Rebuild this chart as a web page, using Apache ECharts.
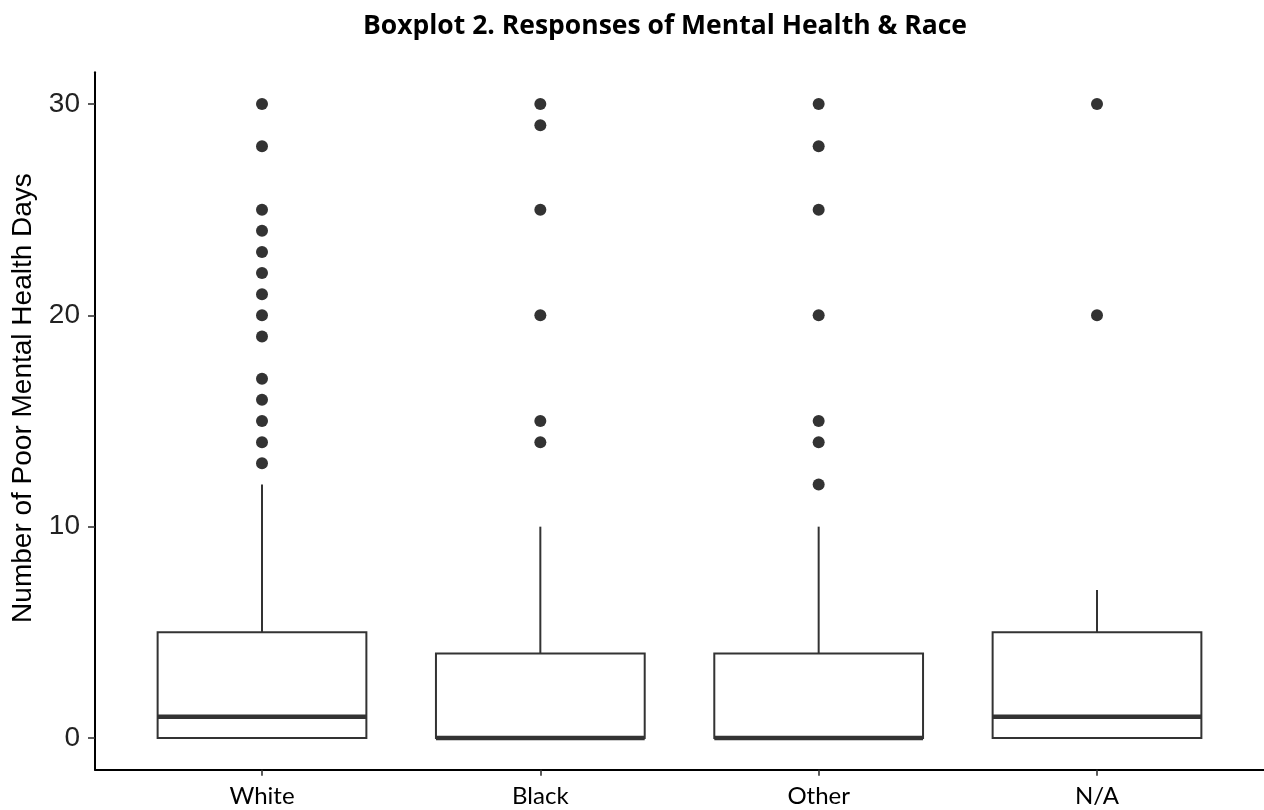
<!DOCTYPE html>
<html>
<head>
<meta charset="utf-8">
<title>Boxplot 2. Responses of Mental Health &amp; Race</title>
<script src="https://cdn.jsdelivr.net/npm/echarts@6/dist/echarts.min.js"></script>
<style>
  html, body { margin: 0; padding: 0; background: #fff; }
  #chart { width: 1264px; height: 810px; }
</style>
</head>
<body>
<div id="chart"></div>
<script>
// Race groups along the x axis
const categories = ['White', 'Black', 'Other', 'N/A'];

// Five-number summaries per group: [lower whisker, Q1, median, Q3, upper whisker]
const boxStats = [
  [0, 0, 1, 5, 12],
  [0, 0, 0, 4, 10],
  [0, 0, 0, 4, 10],
  [0, 0, 1, 5, 7]
];

// Outlying responses per group (distinct values)
const outliersWhite = [13, 14, 15, 16, 17, 19, 20, 21, 22, 23, 24, 25, 28, 30];
const outliersBlack = [14, 15, 20, 25, 29, 30];
const outliersOther = [12, 14, 15, 20, 25, 28, 30];
const outliersNA = [20, 30];
const outlierGroups = [outliersWhite, outliersBlack, outliersOther, outliersNA];

// Y axis tick labels
const yTicks = [0, 10, 20, 30];

// Categories sit at x = 1..n on a continuous axis padded by 0.6 each side
const boxData = boxStats.map((s, i) => [i + 1].concat(s));
const outlierData = [];
outlierGroups.forEach((vals, i) => vals.forEach(v => outlierData.push([i + 1, v])));
const xPositions = categories.map((_, i) => i + 1);

const INK = '#333333';
const BOX_WIDTH = 0.75;

const chart = echarts.init(document.getElementById('chart'), null, { renderer: 'canvas' });

chart.setOption({
  animation: false,
  backgroundColor: '#ffffff',
  title: {
    text: 'Boxplot 2. Responses of Mental Health & Race',
    left: 660,
    textAlign: 'center',
    top: 8,
    textStyle: { fontFamily: 'Open Sans', fontWeight: 'bold', fontSize: 26.5, color: '#000' }
  },
  grid: { left: 95, right: 0, top: 72.3, bottom: 40.3, outerBoundsMode: 'none', containLabel: false },
  xAxis: {
    type: 'value',
    min: 0.4,
    max: 4.6,
    splitLine: { show: false },
    axisLine: { onZero: false, lineStyle: { color: '#000', width: 2 } },
    axisTick: { customValues: xPositions, length: 6, lineStyle: { color: INK, width: 1.6 } },
    axisLabel: {
      customValues: xPositions,
      margin: 15,
      formatter: v => categories[Math.round(v) - 1] || '',
      fontFamily: 'Lato', fontSize: 24, color: '#000'
    }
  },
  yAxis: {
    type: 'value',
    min: -1.5,
    max: 31.5,
    name: 'Number of Poor Mental Health Days',
    nameLocation: 'middle',
    nameRotate: 90,
    nameGap: 58,
    nameTextStyle: {
      fontFamily: 'Liberation Sans', fontSize: 28, color: '#000',
      padding: [0, 0, 0, 46]
    },
    splitLine: { show: false },
    axisLine: { onZero: false, lineStyle: { color: '#000', width: 2 } },
    axisTick: { customValues: yTicks, length: 7, lineStyle: { color: INK, width: 1.6 } },
    axisLabel: {
      customValues: yTicks,
      margin: 15,
      fontFamily: 'Liberation Sans', fontSize: 28, color: '#222'
    }
  },
  series: [
    {
      type: 'custom',
      name: 'boxes',
      data: boxData,
      encode: { x: 0, y: [1, 2, 3, 4, 5] },
      renderItem: function (params, api) {
        const x = api.value(0);
        const lo = api.value(1), q1 = api.value(2), med = api.value(3), q3 = api.value(4), hi = api.value(5);
        const half = api.size([BOX_WIDTH, 0])[0] / 2;
        const cx = api.coord([x, q1])[0];
        const yLo = api.coord([x, lo])[1];
        const yQ1 = api.coord([x, q1])[1];
        const yMed = api.coord([x, med])[1];
        const yQ3 = api.coord([x, q3])[1];
        const yHi = api.coord([x, hi])[1];
        const thin = { stroke: INK, lineWidth: 2, fill: null };
        return {
          type: 'group',
          children: [
            { type: 'line', shape: { x1: cx, y1: yQ3, x2: cx, y2: yHi }, style: thin },
            { type: 'line', shape: { x1: cx, y1: yQ1, x2: cx, y2: yLo }, style: thin },
            {
              type: 'rect',
              shape: { x: cx - half, y: yQ3, width: half * 2, height: yQ1 - yQ3 },
              style: { stroke: INK, lineWidth: 2, fill: '#ffffff' }
            },
            {
              type: 'line',
              shape: { x1: cx - half, y1: yMed, x2: cx + half, y2: yMed },
              style: { stroke: INK, lineWidth: 4.5 }
            }
          ]
        };
      }
    },
    {
      type: 'scatter',
      name: 'outliers',
      data: outlierData,
      symbol: 'circle',
      symbolSize: 12,
      itemStyle: { color: INK, opacity: 1 }
    }
  ]
});
</script>
</body>
</html>
